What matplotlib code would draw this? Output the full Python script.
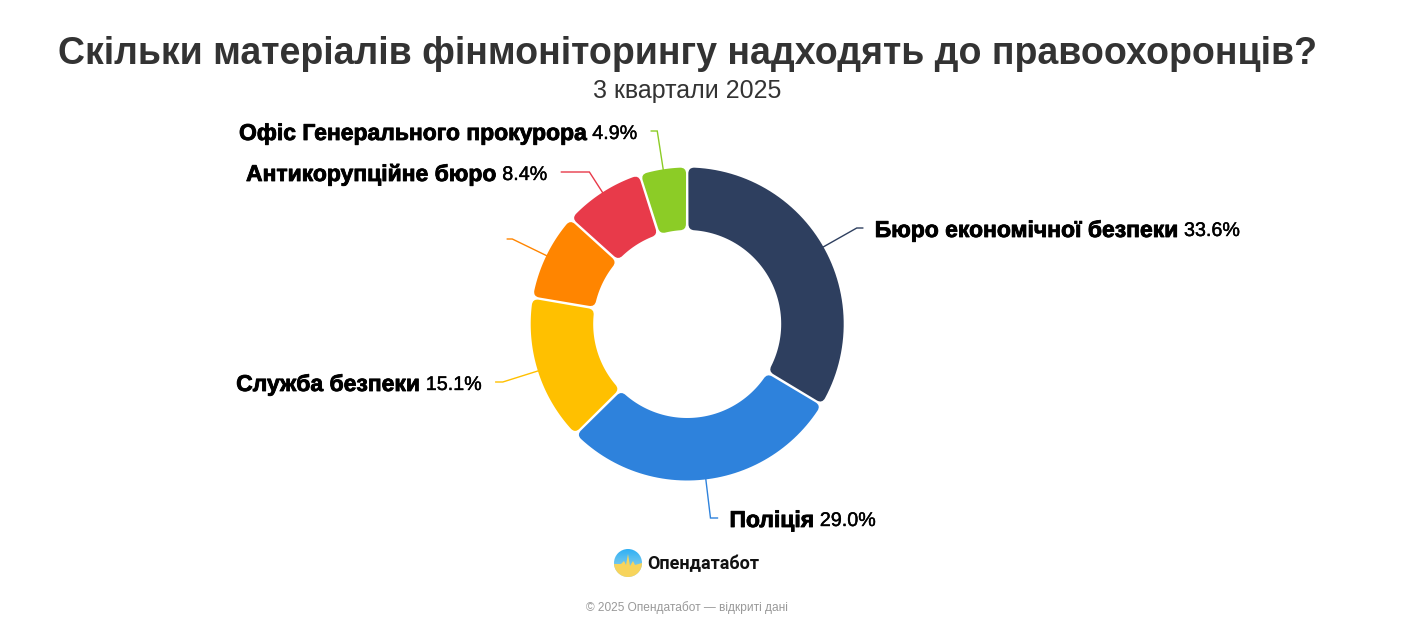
import numpy as np
import matplotlib
matplotlib.use("Agg")
import matplotlib.pyplot as plt
import matplotlib.patheffects as pe
from matplotlib.path import Path
from matplotlib.patches import PathPatch, Circle, Polygon
from matplotlib.colors import LinearSegmentedColormap

plt.rcParams["font.family"] = ["Liberation Sans", "DejaVu Sans"]

# data
names = ["Бюро економічної безпеки", "Поліція", "Служба безпеки", "",
         "Антикорупційне бюро", "Офіс Генерального прокурора"]
values = [33.6, 29.0, 15.1, 9.0, 8.4, 4.9]
colors = ["#2e3f5f", "#2e82dc", "#ffc000", "#ff8500", "#e83a4a", "#8ccc26"]
label_y = [228, 518, 382, 239, 172, 131]
stub = [6, 7, 7, 5, 28, 6]

title = "Скільки матеріалів фінмоніторингу надходять до правоохоронців?"
subtitle = "3 квартали 2025"
footer = "© 2025 Опендатабот — відкриті дані"
brand = "Опендатабот"

W, H = 1417, 619
CX, CY = 687.2, 324
R_OUT, R_IN = 156.5, 94
CORNER = 6
GAP = 1.2


def pt(r, a):
    # a - radians clockwise from the top
    return (CX + r * np.sin(a), CY - r * np.cos(a))


def sector_path(a1, a2):
    g_o, g_i = GAP / R_OUT, GAP / R_IN
    c_o, c_i = CORNER / R_OUT, CORNER / R_IN
    outer = np.linspace(a1 + g_o + c_o, a2 - g_o - c_o, 60)
    inner = np.linspace(a2 - g_i - c_i, a1 + g_i + c_i, 60)
    verts = [pt(R_OUT, a) for a in outer]
    codes = [Path.MOVETO] + [Path.LINETO] * 59
    # corners are quadratic curves
    verts += [pt(R_OUT, a2 - g_o), pt(R_OUT - CORNER, a2 - g_o)]
    codes += [Path.CURVE3, Path.CURVE3]
    verts += [pt(R_IN + CORNER, a2 - g_i), pt(R_IN, a2 - g_i), pt(R_IN, inner[0])]
    codes += [Path.LINETO, Path.CURVE3, Path.CURVE3]
    verts += [pt(R_IN, a) for a in inner[1:]]
    codes += [Path.LINETO] * 59
    verts += [pt(R_IN, a1 + g_i), pt(R_IN + CORNER, a1 + g_i)]
    codes += [Path.CURVE3, Path.CURVE3]
    verts += [pt(R_OUT - CORNER, a1 + g_o), pt(R_OUT, a1 + g_o), pt(R_OUT, outer[0])]
    codes += [Path.LINETO, Path.CURVE3, Path.CURVE3]
    return Path(verts, codes)


fig = plt.figure(figsize=(W / 100, H / 100), dpi=100, facecolor="white")
ax = fig.add_axes([0, 0, 1, 1])
ax.set_xlim(0, W)
ax.set_ylim(H, 0)
ax.axis("off")

ax.text(687, 54.5, title, fontsize=27.0, fontweight="bold", color="#333333",
        ha="center", va="center")
ax.text(687, 91, subtitle, fontsize=18.0, color="#333333", ha="center", va="center")

fractions = np.cumsum([0] + values) / sum(values) * 2 * np.pi
renderer = fig.canvas.get_renderer()
heavy = [pe.withStroke(linewidth=0.6, foreground="black")]
light = [pe.withStroke(linewidth=0.3, foreground="black")]

for i, name in enumerate(names):
    a1, a2 = fractions[i], fractions[i + 1]
    ax.add_patch(PathPatch(sector_path(a1, a2), facecolor=colors[i], edgecolor="none"))

    # leader line: along the ray to the label height, then horizontal
    mid = (a1 + a2) / 2
    x0, y0 = pt(R_OUT, mid)
    r_el = (CY - label_y[i]) / np.cos(mid)
    x1, y1 = pt(r_el, mid)
    side = 1 if np.sin(mid) > 0 else -1
    x2 = x1 + side * stub[i]
    ax.plot([x0, x1, x2], [y0, y1, y1], color=colors[i], lw=1, solid_joinstyle="miter")

    if not name:
        continue
    val = f"{values[i]:.1f}%"
    ty = y1 + 2.5
    if side > 0:
        t1 = ax.text(x2 + 12, ty, name, fontsize=16.5, fontweight="bold", color="black",
                     ha="left", va="center", path_effects=heavy)
        box = t1.get_window_extent(renderer)
        ax.text(box.x1 + 6, ty, val, fontsize=14.2, color="black",
                ha="left", va="center", path_effects=light)
    else:
        t1 = ax.text(x2 - 14, ty, val, fontsize=14.2, color="black",
                     ha="right", va="center", path_effects=light)
        box = t1.get_window_extent(renderer)
        ax.text(box.x0 - 6, ty, name, fontsize=16.5, fontweight="bold", color="black",
                ha="right", va="center", path_effects=heavy)

# logo
grad = LinearSegmentedColormap.from_list("logo", ["#2fb0f5", "#6cc5ee", "#a8d8e8"])
im = ax.imshow(np.linspace(0, 1, 64).reshape(-1, 1), cmap=grad, aspect="auto",
               extent=[614, 642, 577, 549], zorder=3)
clip = Circle((628, 563), 14, transform=ax.transData)
im.set_clip_path(clip)
ax.set_xlim(0, W)
ax.set_ylim(H, 0)
pulse = ax.add_patch(Polygon([(614, 564), (621, 564), (624, 561), (626, 565), (628, 554),
                              (630, 566), (633, 561), (635, 565), (642, 563), (642, 577), (614, 577)],
                             closed=True, facecolor="#f7d45c", edgecolor="none", zorder=4))
pulse.set_clip_path(clip)
ax.text(647, 564, brand, fontsize=13.0, fontweight="bold", color="#111111",
        family=["Roboto", "DejaVu Sans"], ha="left", va="center")

ax.text(687, 608, footer, fontsize=8.6, color="#999999", ha="center", va="center")

fig.savefig("out.png", dpi=100, facecolor="white")
